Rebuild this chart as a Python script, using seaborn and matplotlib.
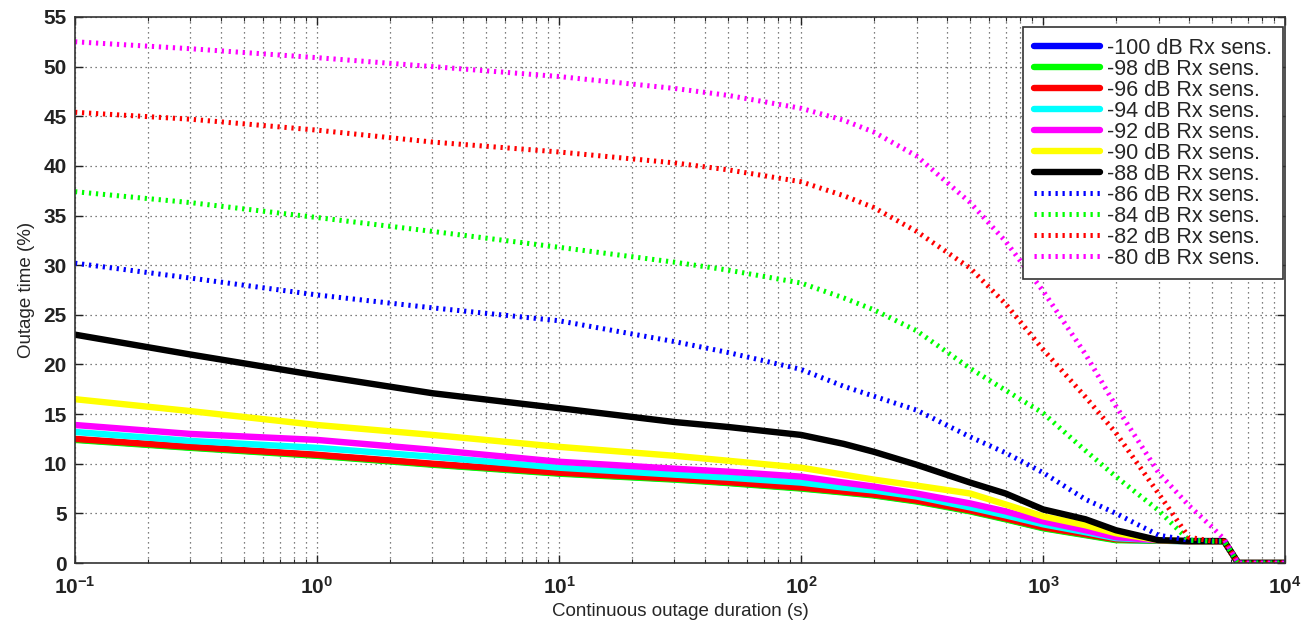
import numpy as np
import pandas as pd
import matplotlib
matplotlib.use("Agg")
import matplotlib.pyplot as plt
import seaborn as sns
from matplotlib.ticker import LogLocator, MultipleLocator, NullFormatter

# ---- data ----
duration_s = [0.1, 0.3, 1, 3, 10, 30, 50, 100, 150, 200, 300, 500, 700, 1000, 1500, 2000,
              3000, 4000, 5000, 5600, 6400, 10000]

sens_labels = ["-100 dB Rx sens.", "-98 dB Rx sens.", "-96 dB Rx sens.", "-94 dB Rx sens.",
               "-92 dB Rx sens.", "-90 dB Rx sens.", "-88 dB Rx sens.", "-86 dB Rx sens.",
               "-84 dB Rx sens.", "-82 dB Rx sens.", "-80 dB Rx sens."]

outage_m100 = [12.45, 11.65, 10.85, 9.95, 9.05, 8.45, 8.1, 7.55, 7.15, 6.85, 6.25, 5.25, 4.45, 3.55, 2.85, 2.35, 2.25, 2.2, 2.2, 2.2, 0, 0]
outage_m98 = [12.4, 11.6, 10.8, 9.9, 9.0, 8.4, 8.05, 7.5, 7.1, 6.8, 6.2, 5.2, 4.4, 3.5, 2.8, 2.3, 2.25, 2.2, 2.2, 2.2, 0, 0]
outage_m96 = [12.5, 11.7, 10.9, 10.0, 9.1, 8.5, 8.15, 7.6, 7.2, 6.9, 6.3, 5.3, 4.5, 3.6, 2.9, 2.4, 2.3, 2.2, 2.2, 2.2, 0, 0]
outage_m94 = [13.2, 12.3, 11.6, 10.7, 9.6, 8.9, 8.6, 8.1, 7.6, 7.3, 6.7, 5.6, 4.8, 3.9, 3.1, 2.5, 2.3, 2.2, 2.2, 2.2, 0, 0]
outage_m92 = [13.9, 13.0, 12.4, 11.4, 10.2, 9.5, 9.2, 8.7, 8.1, 7.7, 7.0, 6.0, 5.2, 4.2, 3.3, 2.6, 2.3, 2.2, 2.2, 2.2, 0, 0]
outage_m90 = [16.5, 15.3, 13.9, 12.9, 11.7, 10.8, 10.3, 9.6, 8.9, 8.4, 7.8, 7.0, 5.9, 4.7, 3.8, 3.0, 2.3, 2.2, 2.2, 2.2, 0, 0]
outage_m88 = [23.0, 21.0, 18.9, 17.1, 15.6, 14.2, 13.7, 12.9, 12.0, 11.2, 9.9, 8.1, 7.0, 5.4, 4.4, 3.3, 2.3, 2.2, 2.2, 2.2, 0, 0]
outage_m86 = [30.2, 28.7, 27.0, 25.7, 24.4, 22.3, 21.2, 19.5, 17.8, 16.8, 15.4, 12.7, 11.1, 9.1, 6.4, 5.0, 2.8, 2.3, 2.2, 2.2, 0, 0]
outage_m84 = [37.4, 36.3, 34.8, 33.4, 31.8, 30.3, 29.5, 28.2, 26.7, 25.5, 23.4, 19.6, 17.4, 15.1, 11.3, 8.7, 5.3, 2.3, 2.2, 2.2, 0, 0]
outage_m82 = [45.4, 44.7, 43.6, 42.4, 41.4, 40.3, 39.6, 38.4, 37.0, 35.8, 33.4, 29.7, 26.1, 21.5, 16.7, 13.1, 7.0, 2.6, 2.2, 2.2, 0, 0]
outage_m80 = [52.5, 51.8, 50.9, 50.0, 49.0, 47.8, 47.1, 45.8, 44.6, 43.4, 41.0, 36.3, 32.4, 27.4, 21.0, 15.8, 9.1, 5.8, 3.6, 2.4, 0, 0]

series = [outage_m100, outage_m98, outage_m96, outage_m94, outage_m92, outage_m90,
          outage_m88, outage_m86, outage_m84, outage_m82, outage_m80]
colors = ["#0000ff", "#00ff00", "#ff0000", "#00ffff", "#ff00ff", "#ffff00", "#000000",
          "#0000ff", "#00ff00", "#ff0000", "#ff00ff"]
dotted = [False] * 7 + [True] * 4

# ---- plot ----
sns.set_theme(style="white")
plt.rcParams["font.family"] = ["Liberation Sans", "DejaVu Sans"]
plt.rcParams["mathtext.default"] = "regular"

fig = plt.figure(figsize=(13.02, 6.28), dpi=100)
ax = fig.add_axes([0.0576, 0.1035, 0.9294, 0.8695])

for lab, vals, col, dot in zip(sens_labels, series, colors, dotted):
    df = pd.DataFrame({"x": duration_s, "y": vals})
    if dot:
        sns.lineplot(data=df, x="x", y="y", ax=ax, color=col, lw=3.6,
                     linestyle=(0, (0.45, 0.95)), label=lab, sort=False)
    else:
        sns.lineplot(data=df, x="x", y="y", ax=ax, color=col, lw=4.6,
                     label=lab, sort=False)

ax.set_xscale("log")
ax.set_xlim(0.1, 1e4)
ax.set_ylim(0, 55)
ax.yaxis.set_major_locator(MultipleLocator(5))
ax.xaxis.set_major_locator(LogLocator(base=10, numticks=10))
ax.xaxis.set_minor_locator(LogLocator(base=10, subs=np.arange(2, 10), numticks=50))
ax.xaxis.set_minor_formatter(NullFormatter())

ax.grid(True, which="major", color="#555555", linestyle=(0, (1, 3)), lw=0.9)
ax.grid(True, which="minor", axis="x", color="#555555", linestyle=(0, (1, 3)), lw=0.9)
ax.set_axisbelow(True)

for sp in ax.spines.values():
    sp.set_color("#333333")
    sp.set_linewidth(1.2)
ax.tick_params(which="major", direction="in", length=6, width=1, top=True, right=True,
               labelsize=15, colors="#222222", bottom=True, left=True)
ax.tick_params(axis="x", which="major", pad=9)
ax.tick_params(axis="y", which="major", pad=6)
ax.tick_params(which="minor", direction="in", length=3, width=0.8, top=True, bottom=True)

for t in ax.get_xticklabels() + ax.get_yticklabels():
    t.set_fontweight("bold")
    t.set_color("#222222")

ax.set_xlabel("Continuous outage duration (s)", fontsize=13.5, labelpad=4)
ax.set_ylabel("Outage time (%)", fontsize=13.5, labelpad=6)

leg = ax.legend(loc="upper right", bbox_to_anchor=(0.9985, 0.982), fontsize=15.5,
                frameon=True, fancybox=False, edgecolor="#333333", framealpha=1,
                handlelength=3.05, borderpad=0.5, labelspacing=0.0,
                handletextpad=0.35, borderaxespad=0.0)
leg.get_frame().set_linewidth(1.2)

fig.savefig("out.png", dpi=100)
